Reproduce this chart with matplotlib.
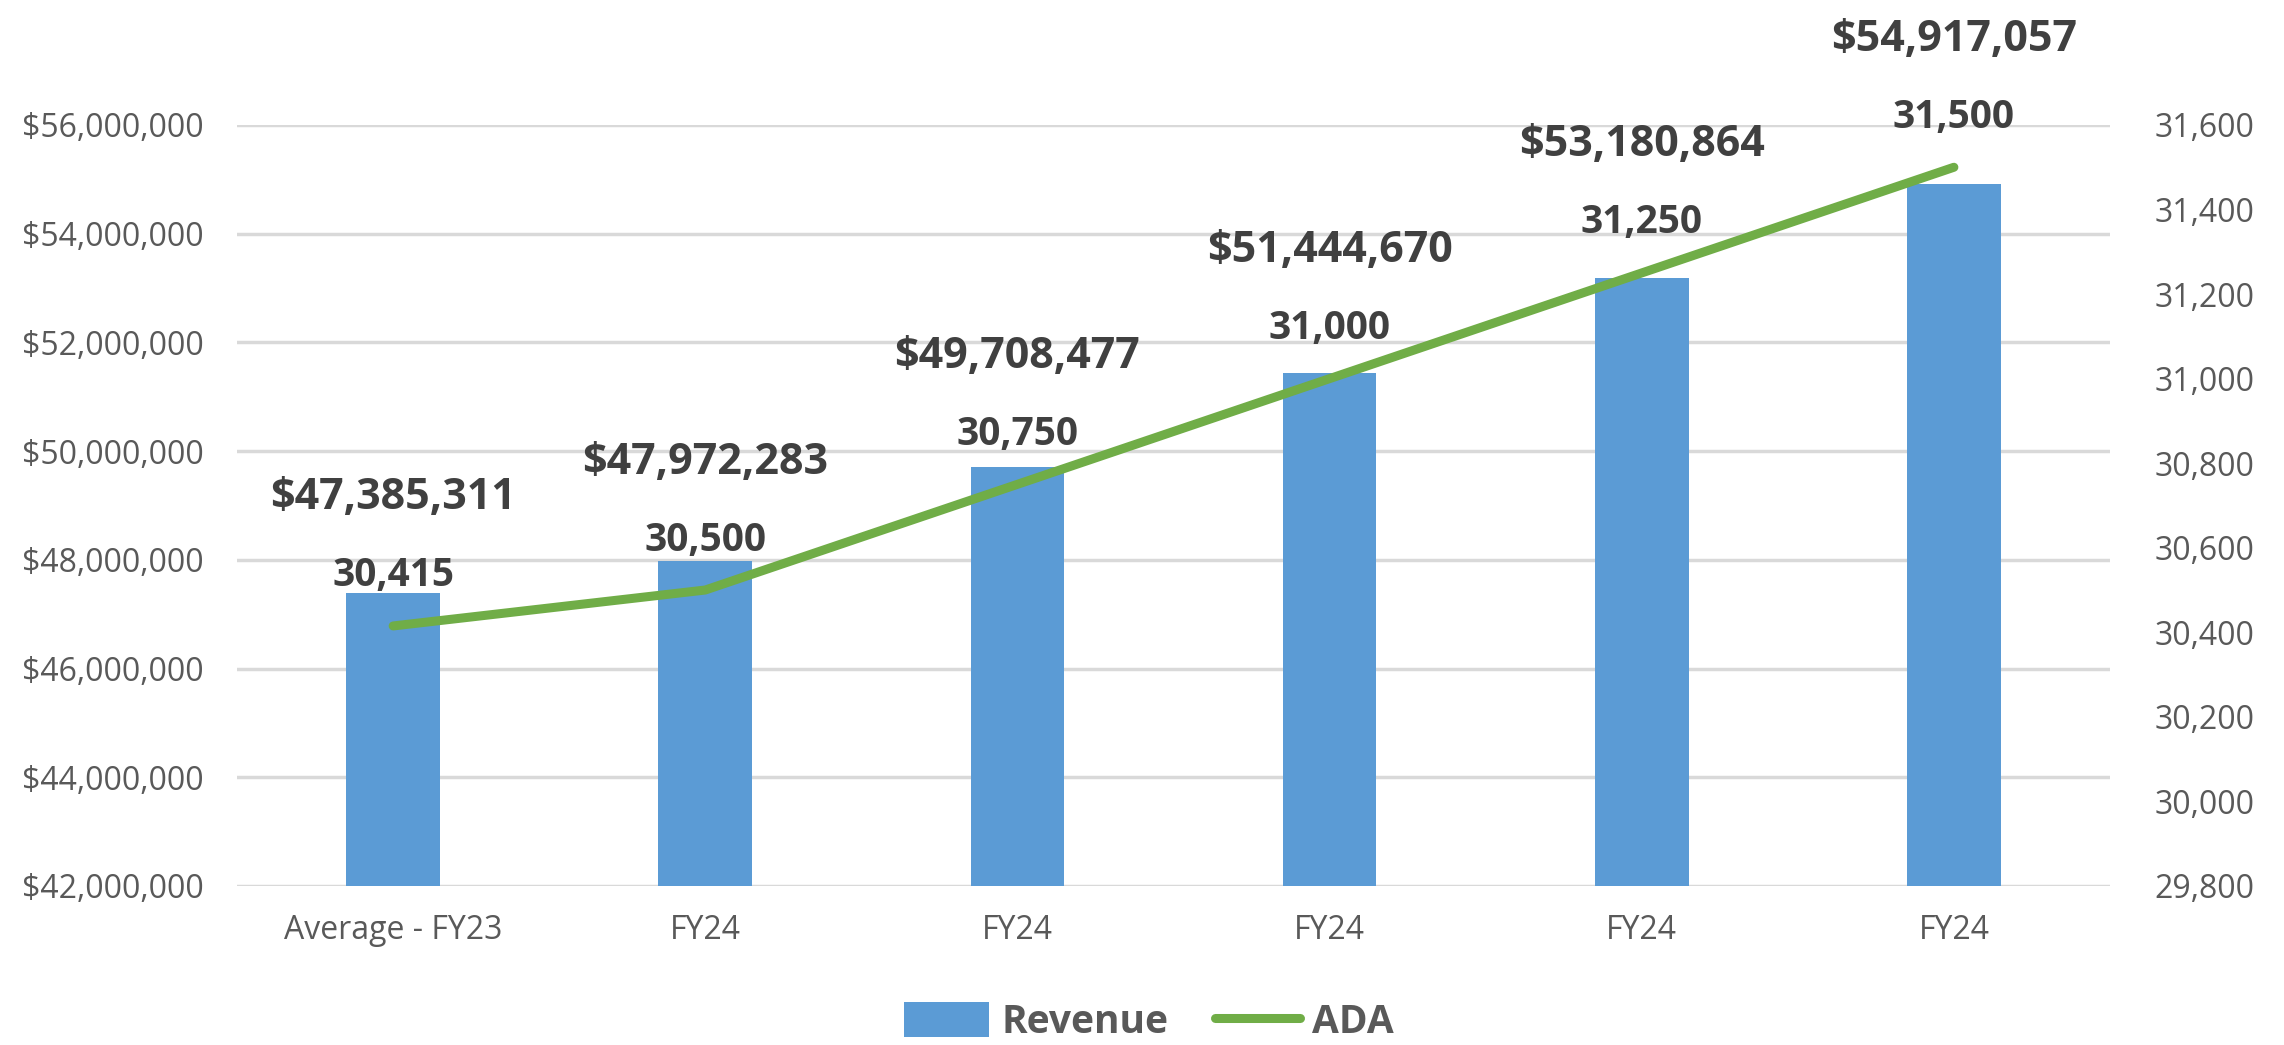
import matplotlib
matplotlib.use('Agg')
from matplotlib import pyplot as plt
from matplotlib.patches import Patch
from matplotlib.lines import Line2D
from matplotlib.ticker import FuncFormatter

# data
categories = ['Average - FY23', 'FY24', 'FY24', 'FY24', 'FY24', 'FY24']
revenue = [47385311, 47972283, 49708477, 51444670, 53180864, 54917057]
ada = [30415, 30500, 30750, 31000, 31250, 31500]

left_ticks = [42000000, 44000000, 46000000, 48000000, 50000000, 52000000, 54000000, 56000000]
right_ticks = [29800, 30000, 30200, 30400, 30600, 30800, 31000, 31200, 31400, 31600]

BAR_COLOR = '#5B9BD5'
LINE_COLOR = '#70AD47'
GRID_COLOR = '#D9D9D9'
TICK_COLOR = '#595959'
LABEL_COLOR = '#404040'

plt.rcParams['font.family'] = ['Open Sans', 'DejaVu Sans']

fig = plt.figure(figsize=(22.84, 10.45), dpi=100)
ax1 = fig.add_axes([0.1038, 0.1522, 0.8200, 0.7282])
ax2 = ax1.twinx()

x = list(range(len(categories)))

# bars for revenue
ax1.bar(x, revenue, width=0.30, color=BAR_COLOR, zorder=2)
ax1.set_ylim(left_ticks[0], left_ticks[-1])
ax1.set_yticks(left_ticks)
ax1.yaxis.set_major_formatter(FuncFormatter(lambda v, p: '${:,.0f}'.format(v)))
ax1.set_xlim(-0.5, len(categories) - 0.5)
ax1.set_xticks(x)
ax1.set_xticklabels(categories)
ax1.grid(axis='y', color=GRID_COLOR, linewidth=2.5, zorder=0)
ax1.set_axisbelow(True)
ax1.tick_params(axis='y', length=0, pad=24, labelsize=23, labelcolor=TICK_COLOR)
ax1.tick_params(axis='x', length=0, pad=20, labelsize=23, labelcolor=TICK_COLOR)

# ADA line on the secondary axis
ax2.plot(x, ada, color=LINE_COLOR, linewidth=6.5, solid_capstyle='round', zorder=3)
ax2.set_ylim(right_ticks[0], right_ticks[-1])
ax2.set_yticks(right_ticks)
ax2.yaxis.set_major_formatter(FuncFormatter(lambda v, p: '{:,.0f}'.format(v)))
ax2.tick_params(axis='y', length=0, pad=32, labelsize=23, labelcolor=TICK_COLOR)

for a in (ax1, ax2):
    for s in a.spines.values():
        s.set_visible(False)

# data labels, stacked above the line point
for xi, r, d in zip(x, revenue, ada):
    ax2.annotate('{:,}'.format(d), (xi, d), xytext=(0, 50), textcoords='offset pixels',
                 ha='center', va='center', fontsize=28, fontweight='bold', color=LABEL_COLOR)
    ax2.annotate('${:,}'.format(r), (xi, d), xytext=(0, 128), textcoords='offset pixels',
                 ha='center', va='center', fontsize=31, fontweight='bold', color=LABEL_COLOR)

handles = [Patch(facecolor=BAR_COLOR, edgecolor='none'),
           Line2D([0], [0], color=LINE_COLOR, linewidth=6.5, solid_capstyle='round')]
leg = fig.legend(handles, ['Revenue', 'ADA'], loc='center', bbox_to_anchor=(0.503, 0.022),
                 ncol=2, frameon=False, handlelength=2.2, handleheight=1.0, columnspacing=1.2,
                 handletextpad=0.3, prop={'size': 28, 'weight': 'bold'})
for t in leg.get_texts():
    t.set_color(TICK_COLOR)

fig.savefig('out.png', dpi=100)
